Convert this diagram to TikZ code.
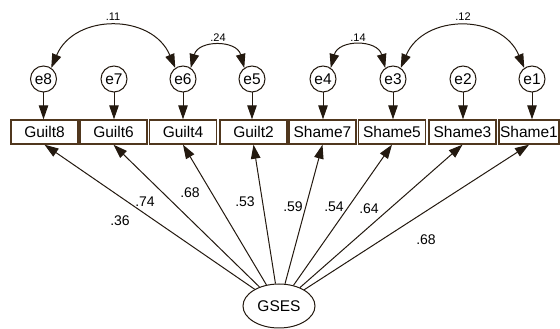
\documentclass[tikz,border=0pt]{standalone}
\usepackage{fontspec}
\setmainfont{Liberation Sans}
\usetikzlibrary{arrows.meta,shapes.geometric}
\definecolor{linec}{RGB}{35,25,15}
\definecolor{boxc}{RGB}{80,55,30}
\begin{document}
\begin{tikzpicture}[x=1pt,y=1pt,
  lin/.style={draw=linec, line width=1pt},
  tip/.style={-{Triangle[length=14pt,width=9.5pt]}},
  tips/.style={{Triangle[length=14pt,width=9.5pt]}-{Triangle[length=14pt,width=9.5pt]}},
  obs/.style={draw=boxc, line width=1.4pt, minimum width=67pt, minimum height=24pt, inner sep=0pt, font=\fontsize{15.5}{15.5}\selectfont},
  err/.style={circle, draw=linec, line width=1pt, minimum size=26pt, inner sep=0pt, font=\fontsize{15.5}{15.5}\selectfont},
  lat/.style={ellipse, draw=linec, line width=1pt, minimum width=72pt, minimum height=44pt, inner sep=0pt, font=\fontsize{15.5}{15.5}\selectfont},
  ld/.style={font=\fontsize{14}{14}\selectfont, inner sep=0pt},
  cv/.style={font=\fontsize{11}{11}\selectfont, inner sep=0pt}
]
\useasboundingbox (0,0) rectangle (560,329);
% observed
\node[obs] (g8) at (44.5,197) {Guilt8};
\node[obs] (g6) at (113.5,197) {Guilt6};
\node[obs] (g4) at (183,197) {Guilt4};
\node[obs] (g2) at (253.5,197) {Guilt2};
\node[obs] (s7) at (322.5,197) {Shame7};
\node[obs] (s5) at (392,197) {Shame5};
\node[obs] (s3) at (462.5,197) {Shame3};
\node[obs, minimum width=60pt] (s1) at (529,197) {Shame1};
% errors
\node[err] (e8) at (43.5,250) {e8};
\node[err] (e7) at (114,250) {e7};
\node[err] (e6) at (183,250) {e6};
\node[err] (e5) at (252,250) {e5};
\node[err] (e4) at (323,250) {e4};
\node[err] (e3) at (393,250) {e3};
\node[err] (e2) at (463,250) {e2};
\node[err] (e1) at (532,250) {e1};
% latent
\node[lat] (gs) at (279,23) {GSES};
% error arrows
\foreach \e/\b in {e8/g8,e7/g6,e6/g4,e5/g2,e4/s7,e3/s5,e2/s3,e1/s1}
  \draw[lin,tip] (\e.south) -- (\e.south |- \b.north);
% loadings
\foreach \b in {g8,g6,g4,g2,s7,s5,s3,s1}
  \draw[lin,tip] (gs) -- (\b.south);
% covariances
\draw[lin,tips] (e8.55) to[out=67,in=113,looseness=1.23] (e6.125);
\draw[lin,tips] (e3.55) to[out=67,in=113,looseness=1.23] (e1.125);
\draw[lin,tips] (e6.55) to[out=75,in=105,looseness=1.4] (e5.125);
\draw[lin,tips] (e4.55) to[out=75,in=105,looseness=1.4] (e3.125);
% covariance labels
\node[cv] (c11) at (113,312) {.11};
\node[cv] (c24) at (218,291) {.24};
\node[cv] (c14) at (358,291) {.14};
\node[cv] (c12) at (463,312) {.12};
% loading labels
\node[ld] (l1) at (120,108) {.36};
\node[ld] (l2) at (145,127) {.74};
\node[ld] (l3) at (190,136) {.68};
\node[ld] (l4) at (245,127) {.53};
\node[ld] (l5) at (293,122) {.59};
\node[ld] (l6) at (334,122) {.54};
\node[ld] (l7) at (369,120) {.64};
\node[ld] (l8) at (426,89) {.68};
\end{tikzpicture}
\end{document}
